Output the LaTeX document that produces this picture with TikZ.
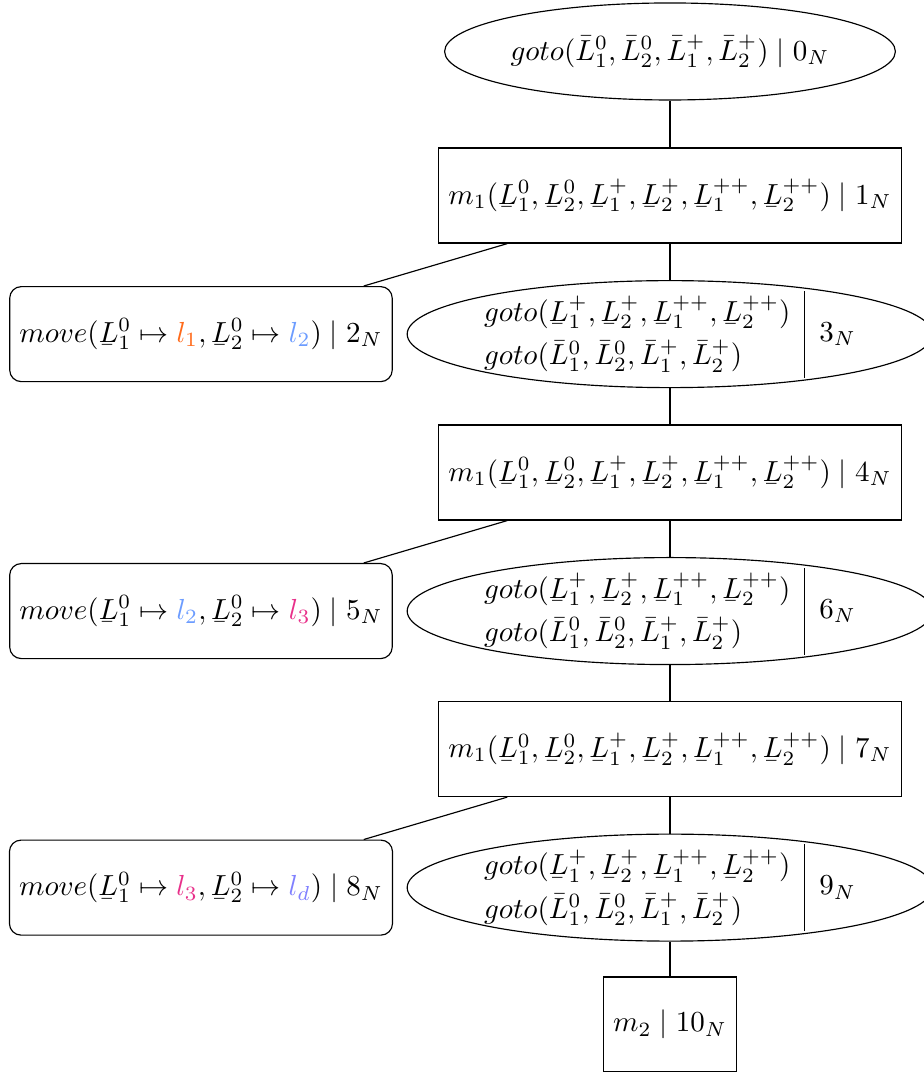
\documentclass[tikz,border=0pt]{standalone}
\usepackage{amsmath}
\usepackage{accents}
\usetikzlibrary{shapes.geometric}
\definecolor{LocOne}{HTML}{FF6A1A}
\definecolor{LocTwo}{HTML}{6C9CFF}
\definecolor{LocThree}{HTML}{E8308A}
\definecolor{LocDone}{HTML}{8080FF}
\newcommand{\uL}{\underaccent{\bar}{L}}
\newcommand{\bL}{\bar{L}}
\tikzset{
  gotonode/.style={draw, ellipse, inner sep=0pt, minimum width=5.455cm, minimum height=1.176cm},
  pairnode/.style={gotonode, minimum width=6.25cm, minimum height=1.297cm, text height=5pt, text depth=0pt},
  mnode/.style={draw, rectangle, minimum height=1.152cm},
  movenode/.style={draw, rectangle, rounded corners=4pt, minimum height=1.152cm},
  link/.style={draw}
}

\begin{document}
\begin{tikzpicture}[x=1cm,y=1cm]
\useasboundingbox (0,0) rectangle (11.188,-12.994);
\node[gotonode] (n0) at (8.121,-0.624) {$goto(\bL_1^0, \bL_2^0, \bL_1^+, \bL_2^+) \mid 0_N$};

\foreach \k/\y/\fst/\snd in {
1/2.370/\textcolor{LocOne}{l_1}/\textcolor{LocTwo}{l_2},
4/5.727/\textcolor{LocTwo}{l_2}/\textcolor{LocThree}{l_3},
7/9.079/\textcolor{LocThree}{l_3}/\textcolor{LocDone}{l_d}}
{
  \pgfmathtruncatemacro{\mv}{\k+1}
  \pgfmathtruncatemacro{\g}{\k+2}
  \node[mnode] (n\k) at (8.121,-\y) {$m_1(\uL_1^0, \uL_2^0, \uL_1^+, \uL_2^+, \uL_1^{++}, \uL_2^{++}) \mid \k_N$};
  \node[movenode] (n\mv) at (2.436,-\y-1.68) {$move(\uL_1^0 \mapsto \fst, \uL_2^0 \mapsto \snd) \mid \mv_N$};
  \node[pairnode] (n\g) at (8.121,-\y-1.68) {\renewcommand{\arraystretch}{1.25}$\begin{array}{@{}l|l@{}}
    \begin{array}{@{}l@{}}
      goto(\uL_1^+, \uL_2^+, \uL_1^{++}, \uL_2^{++})\\
      goto(\bL_1^0, \bL_2^0, \bL_1^+, \bL_2^+)
    \end{array} & \g_N
  \end{array}$};
  \draw[link] (n\k) -- (n\mv);
  \draw[link] (n\k) -- (n\g);
}

\node[mnode] (n10) at (8.121,-12.418) {$m_2 \mid 10_N$};

\draw[link] (n0) -- (n1);
\draw[link] (n3) -- (n4);
\draw[link] (n6) -- (n7);
\draw[link] (n9) -- (n10);
\end{tikzpicture}
\end{document}
